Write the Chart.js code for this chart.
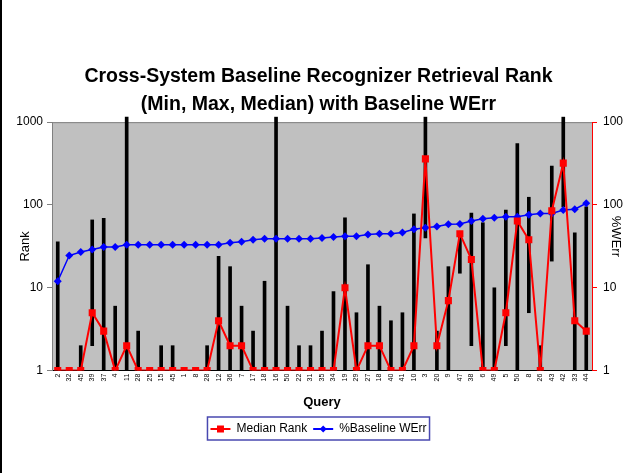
<!DOCTYPE html>
<html>
<head>
<meta charset="utf-8">
<script src="https://cdn.jsdelivr.net/npm/chart.js@4"></script>
<style>
  html, body { margin: 0; padding: 0; background: #fff; }
  #wrap { width: 623px; height: 473px; box-sizing: border-box; border-left: 2px solid #000; }
  canvas { display: block; }
</style>
</head>
<body>
<div id="wrap"><canvas id="chart" width="621" height="473"></canvas></div>
<script>
const queries = ['2', '32', '45', '39', '37', '4', '11', '28', '25', '15', '45', '1', '8', '28', '12', '36',
  '7', '17', '18', '16', '50', '22', '31', '35', '34', '19', '29', '27', '18', '40', '41', '10',
  '3', '20', '9', '47', '38', '6', '49', '5', '50', '8', '26', '43', '42', '33', '44'];

const medianRank = [1, 1, 1, 5, 3, 1, 2, 1, 1, 1, 1, 1, 1, 1, 4, 2,
  2, 1, 1, 1, 1, 1, 1, 1, 1, 10, 1, 2, 2, 1, 1, 2,
  360, 2, 7, 45, 22, 1, 1, 5, 64, 38, 1, 85, 320, 4, 3];

const minRank = [1, 1, 1, 2, 1, 1, 1, 1, 1, 1, 1, 1, 1, 1, 1, 1,
  1, 1, 1, 1, 1, 1, 1, 1, 1, 1, 1, 1, 1, 1, 1, 1,
  40, 1, 1, 15, 2, 1, 1, 2, 1, 5, 1, 21, 95, 1, 1];

const maxRank = [36, 1, 2, 66, 69, 6, 1150, 3, 1, 2, 2, 1, 1, 2, 24, 18,
  6, 3, 12, 1150, 6, 2, 2, 3, 9, 70, 5, 19, 6, 4, 5, 78,
  1150, 3, 18, 46, 80, 61, 10, 87, 550, 124, 2, 295, 1150, 46, 95];

const baselineWErr = [12, 24.5, 27, 29, 31, 31, 33, 33, 33, 33, 33, 33, 33, 33, 33, 35,
  36, 38, 39, 39, 39, 39, 39, 40, 41, 42, 42, 44, 45, 45, 46.5, 51,
  53, 55, 58.5, 59, 64, 68, 70, 72, 72, 76, 79, 79, 87, 89, 105];

const rankTicks = [1, 10, 100, 1000];

Chart.defaults.font.family = '"Liberation Sans", Arial, sans-serif';
Chart.defaults.color = '#000';

const setTicks = scale => { scale.ticks = rankTicks.map(v => ({ value: v })); };

// grey plot area with a darker top edge
const plotBackground = {
  id: 'plotBackground',
  beforeDraw(chart) {
    const { ctx, chartArea: a } = chart;
    ctx.save();
    ctx.fillStyle = '#c0c0c0';
    ctx.fillRect(a.left, a.top, a.width, a.height);
    ctx.strokeStyle = '#808080';
    ctx.lineWidth = 1;
    ctx.beginPath();
    ctx.moveTo(a.left, a.top + 0.5);
    ctx.lineTo(a.right, a.top + 0.5);
    ctx.stroke();
    ctx.restore();
  }
};

// axis titles: left one hugs the canvas edge, right one overlaps the tick labels
const axisTitles = {
  id: 'axisTitles',
  afterDraw(chart) {
    const { ctx, chartArea: a } = chart;
    const midY = (a.top + a.bottom) / 2;
    ctx.save();
    ctx.font = '13px "Liberation Sans", Arial, sans-serif';
    ctx.fillStyle = '#000';
    ctx.textAlign = 'center';
    ctx.textBaseline = 'middle';
    ctx.translate(23, midY);
    ctx.rotate(-Math.PI / 2);
    ctx.fillText('Rank', 0, 0);
    ctx.restore();
    ctx.save();
    ctx.font = '13px "Liberation Sans", Arial, sans-serif';
    ctx.fillStyle = '#000';
    ctx.textAlign = 'center';
    ctx.textBaseline = 'middle';
    ctx.translate(a.right + 24, midY - 10);
    ctx.rotate(Math.PI / 2);
    ctx.fillText('%WErr', 0, 0);
    ctx.restore();
  }
};

// marker in the middle of each legend line + frame round the legend
const legendMarks = {
  id: 'legendMarks',
  afterDraw(chart) {
    const lg = chart.legend;
    const boxes = lg.legendHitBoxes;
    if (!boxes || !boxes.length) return;
    const ctx = chart.ctx;
    const bw = lg.options.labels.boxWidth;
    const last = boxes[boxes.length - 1];
    ctx.save();
    ctx.strokeStyle = '#4848b0';
    ctx.lineWidth = 1.5;
    ctx.strokeRect(boxes[0].left - 3, boxes[0].top - 6, last.left + last.width - boxes[0].left + 6, boxes[0].height + 11);
    lg.legendItems.forEach((item, i) => {
      const b = boxes[i];
      const ds = chart.data.datasets[item.datasetIndex];
      const cx = b.left + bw / 2, cy = b.top + b.height / 2;
      ctx.fillStyle = ds.backgroundColor;
      ctx.beginPath();
      if (ds.pointStyle === 'rect') {
        ctx.rect(cx - 3.5, cy - 3.5, 7, 7);
      } else {
        ctx.moveTo(cx, cy - 3.5);
        ctx.lineTo(cx + 3.5, cy);
        ctx.lineTo(cx, cy + 3.5);
        ctx.lineTo(cx - 3.5, cy);
        ctx.closePath();
      }
      ctx.fill();
    });
    ctx.restore();
  }
};

new Chart(document.getElementById('chart'), {
  data: {
    labels: queries,
    datasets: [
      {
        type: 'line',
        label: 'Median Rank',
        data: medianRank,
        yAxisID: 'y',
        borderColor: '#ff0000',
        backgroundColor: '#ff0000',
        borderWidth: 2,
        pointStyle: 'rect',
        pointRadius: 5,
        pointBorderWidth: 0,
        tension: 0,
        order: 1
      },
      {
        type: 'line',
        label: '%Baseline WErr',
        data: baselineWErr,
        yAxisID: 'y1',
        borderColor: '#0000ff',
        backgroundColor: '#0000ff',
        borderWidth: 1.5,
        pointStyle: 'rectRot',
        pointRadius: 4,
        pointBorderWidth: 0,
        tension: 0,
        order: 2
      },
      {
        type: 'bar',
        label: 'Min-Max',
        data: minRank.map((lo, i) => [lo, maxRank[i]]),
        yAxisID: 'y',
        backgroundColor: '#000',
        borderWidth: 0,
        barThickness: 3,
        clip: false,
        order: 3
      }
    ]
  },
  options: {
    responsive: false,
    devicePixelRatio: 1,
    animation: false,
    layout: { padding: { top: 0, bottom: 28, left: 12, right: 0 } },
    plugins: {
      title: {
        display: true,
        text: ['Cross-System Baseline Recognizer Retrieval Rank', '(Min, Max, Median) with Baseline WErr'],
        font: { size: 19.5, weight: 'bold', lineHeight: 1.44 },
        color: '#000',
        padding: { top: 63, bottom: 3 }
      },
      legend: {
        position: 'bottom',
        labels: {
          filter: item => item.datasetIndex !== 2,
          generateLabels: chart => Chart.defaults.plugins.legend.labels.generateLabels(chart)
            .map(item => ({ ...item, lineWidth: 0 })),
          boxWidth: 20,
          boxHeight: 2,
          padding: 6,
          font: { size: 12 },
          color: '#000'
        }
      },
      tooltip: { enabled: false }
    },
    scales: {
      x: {
        grid: { display: false, drawTicks: false },
        border: { display: true, color: '#000' },
        ticks: { font: { size: 7 }, minRotation: 90, maxRotation: 90, autoSkip: false, padding: 3 },
        title: { display: true, text: 'Query', font: { size: 13, weight: 'bold' }, padding: { top: 10, bottom: 7 } }
      },
      y: {
        type: 'logarithmic',
        position: 'left',
        min: 1,
        max: 1000,
        afterBuildTicks: setTicks,
        afterFit: scale => { scale.width = 38; },
        grid: { drawOnChartArea: false, color: '#808080', tickLength: 5 },
        border: { color: '#808080' },
        ticks: { font: { size: 12 }, padding: 4, callback: v => String(v) }
      },
      y1: {
        type: 'logarithmic',
        position: 'right',
        min: 1,
        max: 1000,
        afterBuildTicks: setTicks,
        afterFit: scale => { scale.width = 31; },
        grid: { drawOnChartArea: false, color: '#ff0000', tickLength: 5 },
        border: { color: '#ff0000' },
        ticks: { font: { size: 12 }, padding: 6, callback: v => String(v) }
      }
    }
  },
  plugins: [plotBackground, axisTitles, legendMarks]
});
</script>
</body>
</html>
